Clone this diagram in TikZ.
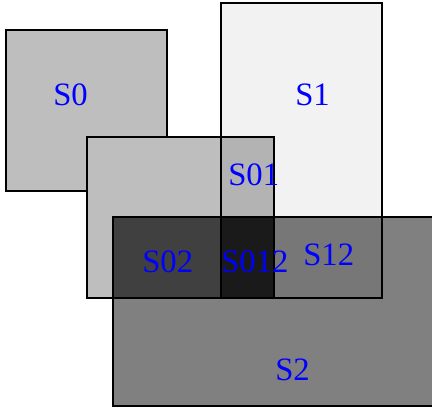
\documentclass[tikz,border=0pt]{standalone}
\usepackage{fontspec}
\setmainfont{Liberation Serif}
\begin{document}
\begin{tikzpicture}[x=0.75pt,y=-0.75pt,
  region/.style={draw=black,line width=0.8pt},
  lbl/.style={anchor=base west,inner sep=0pt,text=blue,font=\fontsize{24.5}{26}\selectfont}]
\useasboundingbox (0,0) rectangle (432,414);
\definecolor{gA}{HTML}{BEBEBE}
\definecolor{gB}{HTML}{F2F2F2}
\definecolor{gC}{HTML}{808080}
\definecolor{gAB}{HTML}{B3B3B3}
\definecolor{gAC}{HTML}{404040}
\definecolor{gABC}{HTML}{1A1A1A}
\definecolor{gBC}{HTML}{777777}
% rectangles
\filldraw[region,fill=gA] (6,30) rectangle (167,191);
\filldraw[region,fill=gB] (221,3) rectangle (382,298);
\filldraw[region,fill=gA] (87,137) rectangle (274,298);
\filldraw[region,fill=gC] (113,217) rectangle (434,406);
% intersection regions
\filldraw[region,fill=gAB] (221,137) rectangle (274,217);
\filldraw[region,fill=gAC] (113,217) rectangle (221,298);
\filldraw[region,fill=gABC] (221,217) rectangle (274,298);
\filldraw[region,fill=gBC] (274,217) rectangle (382,298);
% labels
\node[lbl] (s0) at (53,105) {S0};
\node[lbl] (s1) at (295,105) {S1};
\node[lbl] (s01) at (228,185) {S01};
\node[lbl] (s02) at (142,272) {S02};
\node[lbl] (s012) at (221,272) {S012};
\node[lbl] (s12) at (303,265) {S12};
\node[lbl] (s2) at (275,380) {S2};
\end{tikzpicture}
\end{document}
